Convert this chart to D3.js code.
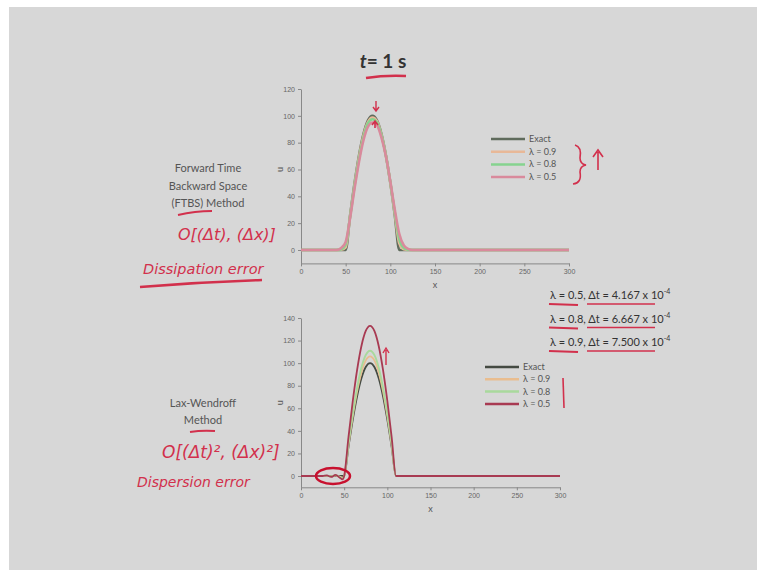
<!DOCTYPE html>
<html>
<head>
<meta charset="utf-8">
<script src="https://cdn.jsdelivr.net/npm/d3@7"></script>
<style>
  body { margin: 0; background: #fff; }
  svg { display: block; }
  .tick text { font-family: "Liberation Sans", Arial, sans-serif; font-size: 7px; fill: #666; }
  .axis path, .axis line { stroke: #888; }
  .lbl { font-family: Lato, "Open Sans", sans-serif; fill: #555; }
  .hand { font-family: "DejaVu Sans", sans-serif; font-style: italic; fill: #d2304c; }
</style>
</head>
<body>
<svg width="766" height="579"></svg>
<script>
var xsPulse = [0, 40, 45, 50, 55, 60, 65, 70, 75, 80, 85, 90, 95, 100, 105, 110, 115, 120, 125, 300];

// FTBS, t = 1 s
var ftbsExact = [0, 0, 0, 0, 25.9, 50, 70.7, 86.6, 96.6, 100, 96.6, 86.6, 70.7, 50, 25.9, 0, 0, 0, 0, 0];
var ftbs09    = [0, 0, 0.2, 2, 25.5, 49, 69.5, 85.5, 95.5, 98.8, 96, 86, 70.5, 50, 27, 5, 0.5, 0, 0, 0];
var ftbs08    = [0, 0, 0.6, 4, 25, 48, 68, 84, 94.5, 97.5, 95, 85.5, 70.5, 50.5, 28, 8, 1.5, 0.2, 0, 0];
var ftbs05    = [0, 0, 1.5, 6, 24, 46, 66, 82, 92, 95, 93, 84, 70, 51, 30, 12, 3.5, 0.8, 0, 0];

// Lax-Wendroff, t = 1 s
var xsLW    = [0, 25, 30, 35, 40, 45, 48, 50, 55, 60, 65, 70, 75, 80, 85, 90, 95, 100, 105, 110, 300];
var lwExact = [0, 0, 0, 0, 0, 0, 0, 0, 25.9, 50, 70.7, 86.6, 96.6, 100, 96.6, 86.6, 70.7, 50, 25.9, 0, 0];
var lw09    = [0, 0, 0.2, -0.3, 0.4, -0.6, -1.5, 0, 27.5, 53, 75, 91.8, 102.4, 106, 102.4, 91.8, 75, 53, 27.5, 0, 0];
var lw08    = [0, 0, 0.3, -0.5, 0.7, -1, -2.2, 0, 28.7, 55.5, 78.5, 96.1, 107.2, 111, 107.2, 96.1, 78.5, 55.5, 28.7, 0, 0];
var lw05    = [0, 0, 0.5, -0.8, 1, -1.5, -3, 0, 34.4, 66.5, 94, 115.2, 128.5, 133, 128.5, 115.2, 94, 66.5, 34.4, 0, 0];

var xTicks = [0, 50, 100, 150, 200, 250, 300];
var legendNames = ["Exact", "\u03bb  = 0.9", "\u03bb  = 0.8", "\u03bb  = 0.5"];

var topColors = ["#5f6b5c", "#e8b897", "#86d38f", "#d98a9c"];
var botColors = ["#444a42", "#e9bd8f", "#a9d99c", "#a83a52"];

var svg = d3.select("svg");
svg.append("rect").attr("x", 9).attr("y", 7).attr("width", 748).attr("height", 563).attr("fill", "#d7d7d7");

function drawChart(opt) {
    var x = d3.scaleLinear().domain([0, 300]).range([opt.x0, opt.x1]);
    var y = d3.scaleLinear().domain(opt.yDomain).range([opt.yBottom, opt.yTop]);

    svg.append("g").attr("class", "axis")
        .attr("transform", "translate(0," + opt.yBottom + ")")
        .call(d3.axisBottom(x).tickValues(xTicks).tickSize(3).tickSizeOuter(0));
    svg.append("g").attr("class", "axis")
        .attr("transform", "translate(" + opt.x0 + ",0)")
        .call(d3.axisLeft(y).tickValues(opt.yTicks).tickSize(3).tickSizeOuter(0));

    svg.append("text").attr("class", "lbl").attr("x", (opt.x0 + opt.x1) / 2).attr("y", opt.yBottom + 25)
        .attr("text-anchor", "middle").attr("font-size", 9).text("x");
    svg.append("text").attr("class", "lbl").attr("font-size", 9)
        .attr("transform", "translate(" + (opt.x0 - 18) + "," + y(opt.uLabelAt) + ") rotate(-90)")
        .attr("text-anchor", "middle").text("u");

    var line = d3.line()
        .x(function (d) { return x(d[0]); })
        .y(function (d) { return y(d[1]); })
        .curve(d3.curveMonotoneX);

    // Exact first, lambda = 0.5 last (its colour shows along the baseline)
    opt.series.forEach(function (s, i) {
        var pts = opt.xs.map(function (v, j) { return [v, s[j]]; });
        svg.append("path").datum(pts)
            .attr("fill", "none")
            .attr("stroke", opt.colors[i])
            .attr("stroke-width", opt.lineWidth)
            .attr("d", line);
    });

    var lg = svg.append("g").attr("transform", "translate(" + opt.legX + "," + opt.legY + ")");
    legendNames.forEach(function (name, i) {
        lg.append("line").attr("x1", 0).attr("x2", 34)
            .attr("y1", i * opt.legStep).attr("y2", i * opt.legStep)
            .attr("stroke", opt.colors[i]).attr("stroke-width", 2.5);
        lg.append("text").attr("class", "lbl").attr("x", 38).attr("y", i * opt.legStep + 3)
            .attr("font-size", 9).attr("fill", "#444").text(name);
    });
    return { x: x, y: y };
}

var topC = drawChart({
    x0: 301, x1: 569, yTop: 89, yBottom: 263.4, yDomain: [-10, 120],
    yTicks: [0, 20, 40, 60, 80, 100, 120], uLabelAt: 60,
    xs: xsPulse, series: [ftbsExact, ftbs09, ftbs08, ftbs05],
    colors: topColors, lineWidth: 2.6,
    legX: 491, legY: 139, legStep: 12.7
});

var botC = drawChart({
    x0: 301, x1: 560, yTop: 318, yBottom: 487.3, yDomain: [-10, 140],
    yTicks: [0, 20, 40, 60, 80, 100, 120, 140], uLabelAt: 65,
    xs: xsLW, series: [lwExact, lw09, lw08, lw05],
    colors: botColors, lineWidth: 1.8,
    legX: 485, legY: 367, legStep: 12.3
});

// slide texts
svg.append("text").attr("x", 383).attr("y", 68).attr("text-anchor", "middle")
    .attr("font-family", "Lato, sans-serif").attr("font-size", 19).attr("font-weight", "bold").attr("fill", "#333")
    .html('<tspan font-style="italic">t</tspan>= 1 s');

function block(lines, cx, y0, step) {
    lines.forEach(function (t, i) {
        svg.append("text").attr("class", "lbl").attr("x", cx).attr("y", y0 + i * step)
            .attr("text-anchor", "middle").attr("font-size", 11).text(t);
    });
}
block(["Forward Time", "Backward Space", "(FTBS) Method"], 208, 172, 17.5);
block(["Lax-Wendroff", "Method"], 203, 407, 17);

var dtLines = [
    ["0.5", "4.167"],
    ["0.8", "6.667"],
    ["0.9", "7.500"]
];
dtLines.forEach(function (d, i) {
    var t = svg.append("text").attr("x", 550).attr("y", 299 + i * 23.5)
        .attr("font-family", "Lato, sans-serif").attr("font-size", 11).attr("fill", "#333");
    t.append("tspan").text("\u03bb = " + d[0] + ", \u0394t = " + d[1] + " x 10");
    t.append("tspan").attr("dy", -5).attr("font-size", 7).text("-4");
});

// handwritten annotations
var red = "#d2304c";
svg.append("path").attr("d", "M366,78 Q385,75 406,76").attr("stroke", red).attr("stroke-width", 2.5).attr("fill", "none");
svg.append("text").attr("class", "hand").attr("x", 178).attr("y", 240).attr("font-size", 16).text("O[(\u0394t), (\u0394x)]");
svg.append("text").attr("class", "hand").attr("x", 143).attr("y", 274).attr("font-size", 14.5).text("Dissipation error");
svg.append("path").attr("d", "M140,287 Q200,282 262,280").attr("stroke", red).attr("stroke-width", 2.5).attr("fill", "none");
svg.append("path").attr("d", "M178,215 Q195,211 212,211").attr("stroke", red).attr("stroke-width", 2).attr("fill", "none");
svg.append("text").attr("class", "hand").attr("x", 162).attr("y", 458).attr("font-size", 17).text("O[(\u0394t)\u00b2, (\u0394x)\u00b2]");
svg.append("text").attr("class", "hand").attr("x", 137).attr("y", 487).attr("font-size", 14).text("Dispersion error");
svg.append("path").attr("d", "M190,432 Q202,430 215,431").attr("stroke", red).attr("stroke-width", 2).attr("fill", "none");

svg.append("ellipse").attr("cx", 333).attr("cy", 476).attr("rx", 17).attr("ry", 8)
    .attr("stroke", "#c8102e").attr("stroke-width", 2.5).attr("fill", "none");

// underline the dt lines
dtLines.forEach(function (d, i) {
    var yy = 304 + i * 23.5;
    svg.append("path").attr("d", "M549," + yy + " L578," + (yy + 1)).attr("stroke", red).attr("stroke-width", 2.2).attr("fill", "none");
    svg.append("path").attr("d", "M587," + yy + " L655," + yy).attr("stroke", red).attr("stroke-width", 1.4).attr("fill", "none");
});

// brace and arrow by the top legend, bar by the bottom legend
svg.append("path").attr("d", "M575,145 Q582,147 580,158 Q580,164 586,165 Q580,166 580,172 Q582,183 573,184")
    .attr("stroke", red).attr("stroke-width", 1.6).attr("fill", "none");
svg.append("path").attr("d", "M598,170 L598,152 M593,157 L598,150 L603,157")
    .attr("stroke", red).attr("stroke-width", 1.6).attr("fill", "none");
svg.append("path").attr("d", "M563,378 L564,408").attr("stroke", red).attr("stroke-width", 1.6).attr("fill", "none");
svg.append("path").attr("d", "M386,350 L386,365 M383,353 L386,348 L389,353").attr("stroke", red).attr("stroke-width", 1.4).attr("fill", "none");
svg.append("path").attr("d", "M376,101 L376,110 M373,107 L376,111 L379,107").attr("stroke", red).attr("stroke-width", 1.4).attr("fill", "none");
svg.append("path").attr("d", "M375,128 L375,122 M372,125 L375,121 L378,125").attr("stroke", red).attr("stroke-width", 1.6).attr("fill", "none");
</script>
</body>
</html>
